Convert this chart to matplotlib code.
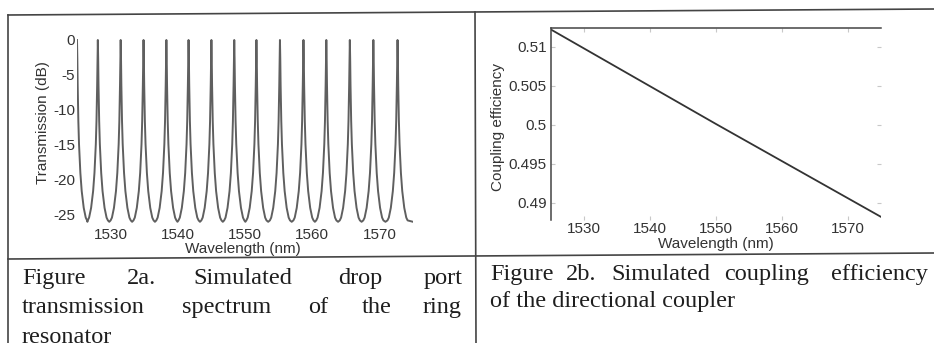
import numpy as np
import matplotlib
matplotlib.use('Agg')
import matplotlib.pyplot as plt

# figure 2a: drop port spectrum (peak centres)
peak_wl = [1525.0, 1528.1, 1531.5, 1534.9, 1538.3, 1541.6, 1545.0, 1548.4,
           1551.7, 1555.2, 1558.7, 1562.1, 1565.6, 1569.1, 1572.7]
profile_offset = [0.0, 0.05, 0.1, 0.2, 0.3, 0.5, 0.7, 1.0, 1.3, 1.5]
profile_db = [0.0, -2.6, -6.4, -11.6, -14.9, -19.0, -21.6, -24.0, -25.4, -25.8]
trough_db = -26.0
wl_start, wl_end = 1525.0, 1575.0

# figure 2b: coupling efficiency
coupler_wl = [1525, 1550, 1575]
coupler_eff = [0.5122, 0.5001, 0.4882]

wl_ticks = [1530, 1540, 1550, 1560, 1570]
db_ticks = [0, -5, -10, -15, -20, -25]
eff_ticks = [0.49, 0.495, 0.5, 0.505, 0.51]
eff_labels = ["0.49", "0.495", "0.5", "0.505", "0.51"]

# caption words, left side (justified) and right side
cap_a = [["Figure", "2a.", "Simulated", "drop", "port"],
         ["transmission", "spectrum", "of", "the", "ring"],
         ["resonator"]]
cap_b = [["Figure", "2b.", "Simulated", "coupling", "efficiency"],
         ["of the directional coupler"]]

# build the drop port curve from the peak list and the profile
xs, ys = [], []
for i, p in enumerate(peak_wl):
    left = (p - peak_wl[i - 1]) / 2 if i > 0 else 0.0
    right = (peak_wl[i + 1] - p) / 2 if i < len(peak_wl) - 1 else wl_end - p
    for o, d in reversed(list(zip(profile_offset, profile_db))):
        if 0 < o < left:
            xs.append(p - o); ys.append(d)
    xs.append(p); ys.append(profile_db[0])
    for o, d in zip(profile_offset, profile_db):
        if 0 < o < right:
            xs.append(p + o); ys.append(d)
    xs.append(p + right); ys.append(trough_db)

W, H = 934, 343
fig = plt.figure(figsize=(W / 100, H / 100), dpi=100)
fig.patch.set_facecolor('white')

def box(x0, y0, x1, y1):
    return [x0 / W, 1 - y1 / H, (x1 - x0) / W, (y1 - y0) / H]

txt = '#333333'
sans = 'Liberation Sans'
serif = 'Liberation Serif'

# left plot
ax1 = fig.add_axes(box(77, 36.5, 413, 226))
ax1.plot(xs, ys, color='#5f5f5f', lw=1.4)
ax1.set_xlim(wl_start, wl_end)
ax1.set_ylim(-26.6, 0.5)
ax1.set_xticks(wl_ticks)
ax1.set_xticklabels([str(t) for t in wl_ticks])
ax1.set_yticks(db_ticks)
ax1.set_yticklabels([str(t) for t in db_ticks])
for s in ax1.spines.values():
    s.set_visible(False)
ax1.tick_params(length=0, labelsize=11, labelcolor=txt)
ax1.tick_params(axis='x', pad=1.5)
ax1.tick_params(axis='y', pad=1.5)
for lab in ax1.get_xticklabels() + ax1.get_yticklabels():
    lab.set_family(sans)

# right plot
ax2 = fig.add_axes(box(551, 28, 881, 220))
ax2.plot(coupler_wl, coupler_eff, color='#333333', lw=1.3)
ax2.set_xlim(wl_start, wl_end)
ax2.set_ylim(0.4878, 0.5124)
ax2.set_xticks(wl_ticks)
ax2.set_xticklabels([str(t) for t in wl_ticks])
ax2.set_yticks(eff_ticks)
ax2.set_yticklabels(eff_labels)
ax2.spines['bottom'].set_visible(False)
ax2.spines['right'].set_visible(False)
ax2.spines['left'].set_color('#444444')
ax2.spines['top'].set_color('#444444')
ax2.spines['left'].set_linewidth(1.1)
ax2.spines['top'].set_linewidth(1.1)
ax2.tick_params(direction='in', length=3, color='#c8c8c8', labelsize=11,
                labelcolor=txt, top=True, right=True)
ax2.tick_params(axis='x', pad=1.5)
ax2.tick_params(axis='y', pad=3)
for lab in ax2.get_xticklabels() + ax2.get_yticklabels():
    lab.set_family(sans)

# overlay for labels, table lines and captions (pixel coordinates)
ov = fig.add_axes([0, 0, 1, 1], zorder=-1)
ov.set_xlim(0, W)
ov.set_ylim(H, 0)
ov.axis('off')

ov.text(43, 123, "Transmission (dB)", rotation=90, ha='center', va='center',
        fontsize=11, family=sans, color=txt)
ov.text(243, 249, "Wavelength (nm)", ha='center', va='center',
        fontsize=11, family=sans, color=txt)
ov.text(498, 127, "Coupling efficiency", rotation=90, ha='center', va='center',
        fontsize=11, family=sans, color=txt)
ov.text(716, 244, "Wavelength (nm)", ha='center', va='center',
        fontsize=11, family=sans, color=txt)

# table lines (scan is slightly tilted)
lc = '#444444'
ov.plot([8, W], [15, 9], color=lc, lw=1.2)
ov.plot([8, W], [259, 253], color=lc, lw=1.2)
ov.plot([8, 8], [15, H], color=lc, lw=1.2)
ov.plot([475, 476], [12, H], color=lc, lw=1.2)

# captions
xa = [[22, 127, 193, 338, 424],
      [22, 182, 308, 362, 423],
      [22]]
ya = [284, 313, 343]
xb = [[490, 566, 611, 724, 831],
      [490]]
yb = [280, 307]
for words, xpos, y in zip(cap_a, xa, ya):
    for w, x in zip(words, xpos):
        ov.text(x, y, w, ha='left', va='baseline', fontsize=17.5,
                family=serif, color='#1e1e1e')
for words, xpos, y in zip(cap_b, xb, yb):
    for w, x in zip(words, xpos):
        ov.text(x, y, w, ha='left', va='baseline', fontsize=17.5,
                family=serif, color='#1e1e1e')

fig.savefig('out.png', dpi=100)
